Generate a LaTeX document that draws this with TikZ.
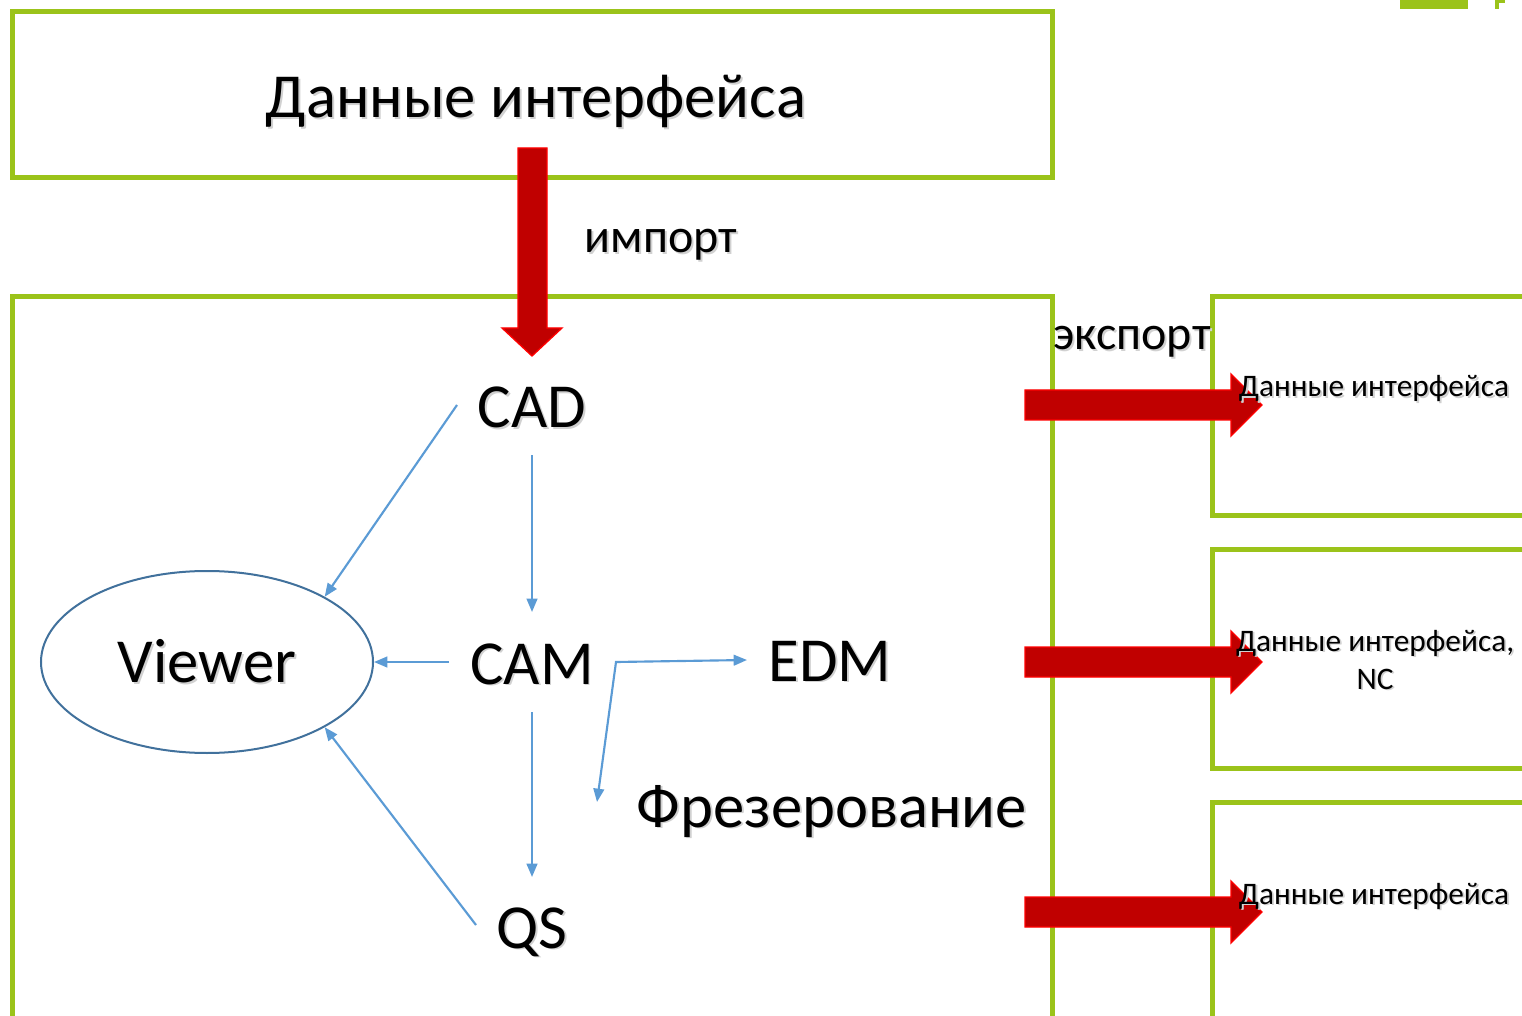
\documentclass[tikz,border=0pt]{standalone}
\usepackage{fontspec}
\setmainfont{Carlito}
\usetikzlibrary{arrows.meta,shapes.geometric,calc}
\definecolor{grn}{HTML}{9BC31A}
\definecolor{dred}{HTML}{C00000}
\definecolor{blu}{HTML}{5B9BD5}
\definecolor{ellc}{HTML}{41719C}
\newcommand\shd[1]{\makebox[0pt][l]{\color{black!18}\raisebox{-1.4pt}{\hspace{1.4pt}#1}}#1}
\begin{document}
\begin{tikzpicture}[x=0.75pt,y=-0.75pt,
  greenbox/.style={draw=grn,line width=3.75pt},
  big/.style={font=\fontsize{47}{56}\selectfont,anchor=base,inner sep=0pt},
  mid/.style={font=\fontsize{36}{43}\selectfont,anchor=base,inner sep=0pt},
  small/.style={font=\fontsize{23.5}{28}\selectfont,anchor=base,inner sep=0pt},
  bluearrow/.style={draw=blu,line width=1.6pt,-{Triangle[length=10pt,width=8pt]}},
  redarrow/.style={fill=dred,draw=red,line width=1pt,line join=miter}]
\useasboundingbox (0,0) rectangle (1522,1016);
\fill[white] (0,0) rectangle (1522,1016);
% green frames
\draw[greenbox] (12,12) rectangle (1052,178);
\draw[greenbox] (12,1040) -- (12,297) -- (1052,297) -- (1052,1040);
\draw[greenbox] (1560,297) -- (1212,297) -- (1212,515) -- (1560,515);
\draw[greenbox] (1560,549) -- (1212,549) -- (1212,768) -- (1560,768);
\draw[greenbox] (1560,802) -- (1212,802) -- (1212,1040);
\fill[grn] (1400,0) rectangle (1468,9);
\fill[grn] (1495,0) rectangle (1499,9);
\fill[grn] (1495,0) rectangle (1505,3);
% red block arrows
\draw[redarrow] (518,148) -- (547,148) -- (547,328) -- (562,328) -- (532,356) -- (502,328) -- (518,328) -- cycle;
\draw[redarrow] (1025,390) -- (1231,390) -- (1231,374) -- (1262,405) -- (1231,436) -- (1231,420) -- (1025,420) -- cycle;
\draw[redarrow] (1025,647) -- (1231,647) -- (1231,631) -- (1262,662) -- (1231,693) -- (1231,677) -- (1025,677) -- cycle;
\draw[redarrow] (1025,897) -- (1231,897) -- (1231,881) -- (1262,912) -- (1231,943) -- (1231,927) -- (1025,927) -- cycle;
% texts
\node[big] (topt) at (536,118) {\shd{Данные интерфейса}};
\node[mid] (imp) at (661,253) {\shd{импорт}};
\node[mid] (exp) at (1132,350) {\shd{экспорт}};
\node[small] (r1) at (1374,397) {\shd{Данные интерфейса}};
\node[small] (r2) at (1375,651) {\shd{Данные интерфейса,}};
\node[small] (r2b) at (1375,689) {\shd{NC}};
\node[small] (r3) at (1374,904) {\shd{Данные интерфейса}};
\node[big] (cad) at (532,428) {\shd{CAD}};
\node[big] (cam) at (532,684) {\shd{CAM}};
\node[big] (qs) at (532,948) {\shd{QS}};
\node[big] (edm) at (830,681) {\shd{EDM}};
\node[big] (frez) at (832,827) {\shd{Фрезерование}};
\node[draw=ellc,line width=1.5pt,shape=ellipse,inner sep=0pt,minimum width=249pt,minimum height=136.5pt,font=\fontsize{47}{56}\selectfont] (viewer) at (207,662) {\shd{Viewer}};
% blue connectors
\draw[bluearrow] ($(cad.base)+(0,27)$) -- ($(cam.base)+(0,-72)$);
\draw[bluearrow] ($(cad.base)+(-75,-23)$) -- (viewer.29);
\draw[bluearrow] ($(cam.base)+(-83,-22)$) -- (viewer.east);
\draw[bluearrow] ($(cam.base)+(0,28)$) -- ($(qs.base)+(0,-71)$);
\draw[bluearrow] ($(qs.base)+(-56,-23)$) -- (viewer.-29);
\coordinate (corner) at ($(cam.base)+(84,-22)$);
\draw[draw=blu,line width=1.6pt,{Triangle[length=10pt,width=8pt]}-{Triangle[length=10pt,width=8pt]}] ($(frez.base)+(-235,-25)$) -- (corner) -- ($(edm.base)+(-83,-21)$);
\end{tikzpicture}
\end{document}
